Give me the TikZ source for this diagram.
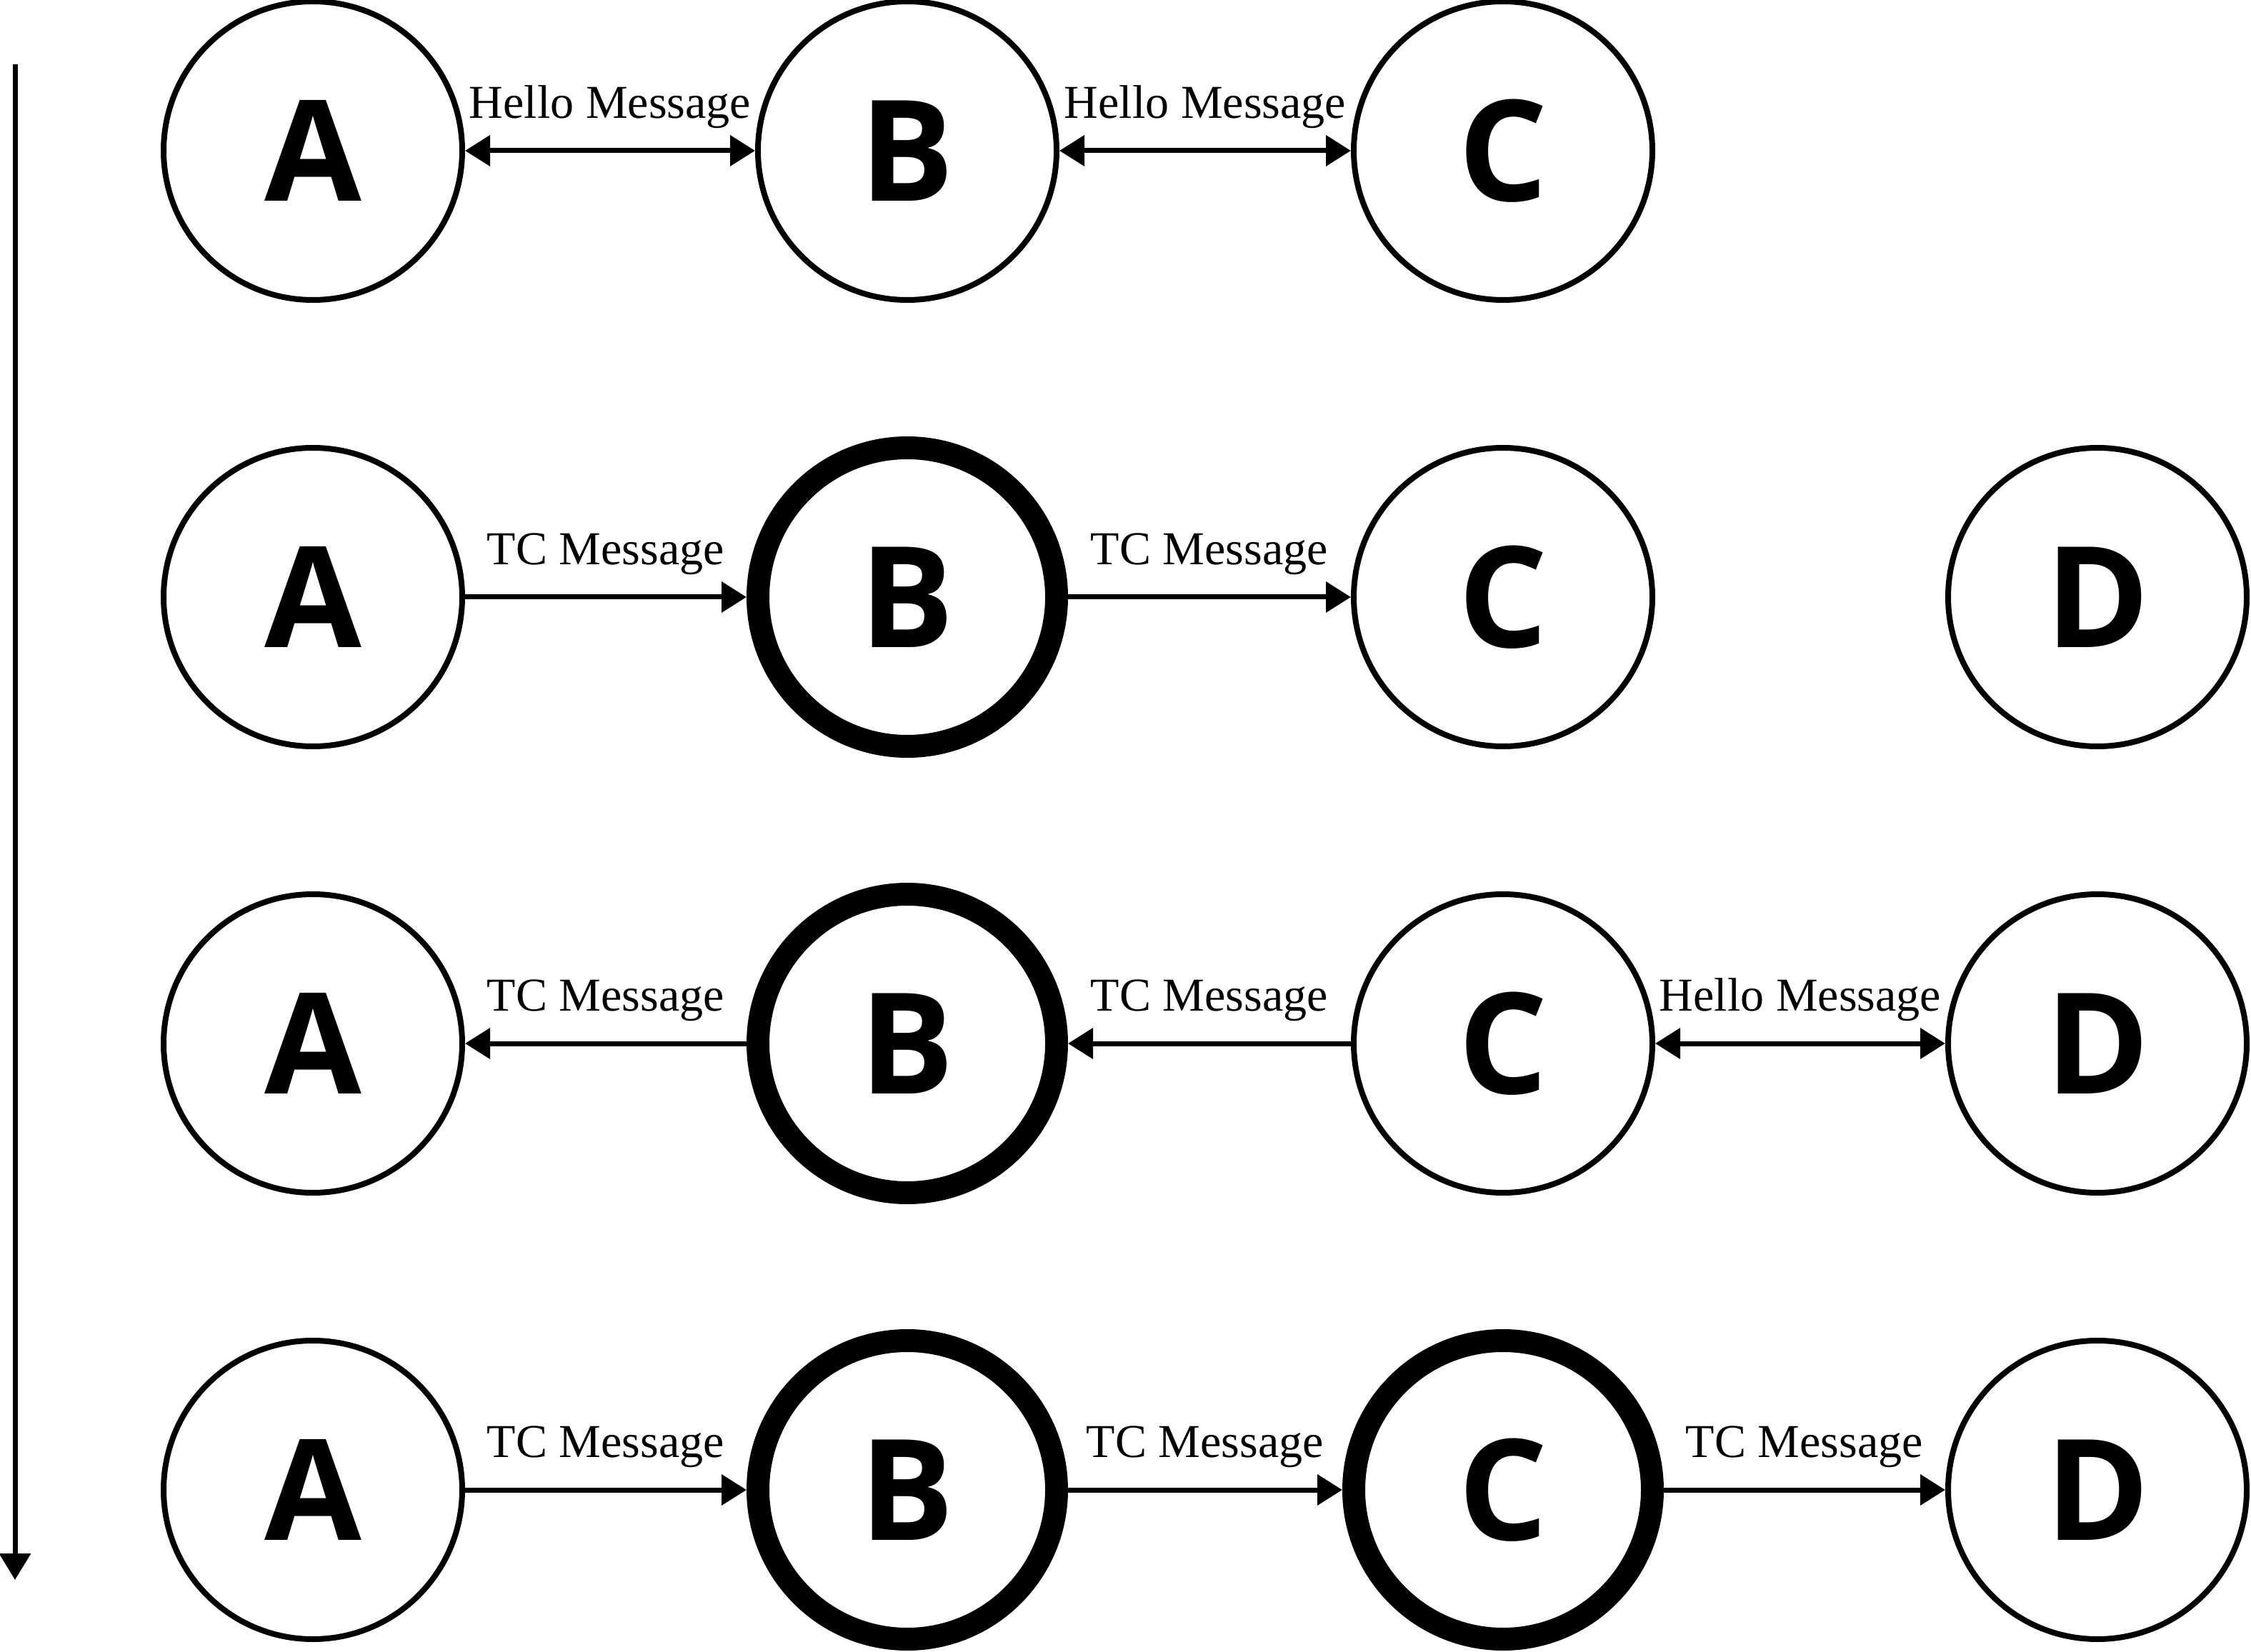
\documentclass[tikz,border=0pt]{standalone}
\usepackage{fontspec}
\setmainfont{Liberation Serif}
\newfontfamily\letterfont{Open Sans}
\usetikzlibrary{arrows.meta, positioning}
\tikzset{
  Node1/.style = {
    draw, circle,
    line width = 0.8mm,
    minimum size = 41.8mm,
    inner sep = 0pt,
    font = \letterfont\bfseries\fontsize{56}{58}\selectfont,
  },
  Node2/.style = {
    Node1,
    line width = 3.2mm,
  },
  Arrow1/.style = {
    draw, line width = 0.7mm,
    -{Triangle[length = 3.5mm, width = 4.2mm]},
  },
  Arrow2/.style = {
    draw, line width = 0.7mm,
    {Triangle[length = 3.5mm, width = 4.2mm]}-{Triangle[length = 3.5mm, width = 4.2mm]},
  },
  Label1/.style = {
    above = 2.8mm, inner sep = 0pt,
    font = \fontsize{18.8}{20}\selectfont,
  }
}

\begin{document}
\begin{tikzpicture}
      \useasboundingbox (0,0) rectangle (31.51,-23.13);
      % time line
      \coordinate (t1) at (0.21,-0.90);
      \coordinate (t2) at (0.21,-22.12);
      \draw (t1)[draw, line width = 0.7mm, -{Triangle[length = 3.7mm, width = 4.3mm]}] -- (t2);
      % row 1
      \draw
        (4.38,-2.11)node[Node1](a1){A}
        ([xshift=83.2mm]a1.center)node[Node1](b1){B}
        ([xshift=83.4mm]b1.center)node[Node1](c1){C};
      \draw (a1)[Arrow2] -- node[Label1]{Hello Message} (b1);
      \draw (b1)[Arrow2] -- node[Label1]{Hello Message} (c1);
      % row 2
      \draw
        ([yshift=-62.5mm]a1.center)node[Node1](a2){A}
        ([xshift=83.2mm]a2.center)node[Node2](b2){B}
        ([xshift=83.4mm]b2.center)node[Node1](c2){C}
        ([xshift=83.2mm]c2.center)node[Node1](d2){D};
      \draw (a2)[Arrow1] -- node[Label1]{TC Message} (b2);
      \draw (b2)[Arrow1] -- node[Label1]{TC Message} (c2);
      % row 3
      \draw
        ([yshift=-62.5mm]a2.center)node[Node1](a3){A}
        ([xshift=83.2mm]a3.center)node[Node2](b3){B}
        ([xshift=83.4mm]b3.center)node[Node1](c3){C}
        ([xshift=83.2mm]c3.center)node[Node1](d3){D};
      \draw (b3)[Arrow1] -- node[Label1]{TC Message} (a3);
      \draw (c3)[Arrow1] -- node[Label1]{TC Message} (b3);
      \draw (c3)[Arrow2] -- node[Label1]{Hello Message} (d3);
      % row 4
      \draw
        ([yshift=-62.5mm]a3.center)node[Node1](a4){A}
        ([xshift=83.2mm]a4.center)node[Node2](b4){B}
        ([xshift=83.4mm]b4.center)node[Node2](c4){C}
        ([xshift=83.2mm]c4.center)node[Node1](d4){D};
      \draw (a4)[Arrow1] -- node[Label1]{TC Message} (b4);
      \draw (b4)[Arrow1] -- node[Label1]{TC Message} (c4);
      \draw (c4)[Arrow1] -- node[Label1]{TC Message} (d4);
    \end{tikzpicture}
\end{document}
